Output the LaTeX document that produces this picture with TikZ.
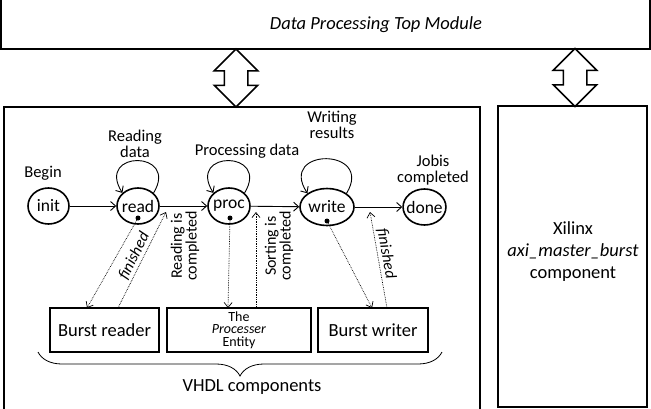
\documentclass[tikz,border=0pt]{standalone}
\usepackage{fontspec}
\setmainfont{Carlito}
\usetikzlibrary{arrows.meta,shapes.geometric,shapes.arrows,decorations.pathreplacing}

\tikzset{
  modbox/.style={draw, line width=1.5pt, inner sep=0pt},
  big/.style={align=center, font=\fontsize{18.5pt}{22pt}\selectfont},
  fsm/.style={draw, ellipse, line width=1.6pt, inner sep=-3pt, minimum height=36pt, font=\fontsize{17.5pt}{20pt}\selectfont},
  note/.style={align=center, font=\fontsize{16.5pt}{16pt}\selectfont},
  vlbl/.style={align=center, rotate=90, font=\fontsize{16pt}{13.5pt}\selectfont},
  finlbl/.style={font=\fontsize{16pt}{18pt}\selectfont\itshape, inner sep=2pt},
  compbox/.style={draw, line width=1.5pt, minimum height=44pt, font=\fontsize{18.5pt}{22pt}\selectfont},
  dblarrow/.style={double arrow, draw, line width=1.5pt, fill=white, rotate=90, minimum height=58pt, minimum width=0pt, inner xsep=0pt, inner ysep=11pt, double arrow head extend=10pt},
  transarrow/.style={-{Straight Barb[length=5pt,width=9pt]}, line width=0.9pt},
  sig/.style={densely dotted, -{Straight Barb[length=5pt,width=8pt]}, line width=0.7pt},
  dotmark/.style={circle, fill, inner sep=0pt, minimum size=5pt}
}

\begin{document}
\begin{tikzpicture}[x=1pt,y=-1pt]
\useasboundingbox (0,0) rectangle (651,408);
% modules
\node[modbox, minimum width=649pt, minimum height=56pt] (top) at (325.5,21) {};
\node[big] (toplbl) at (376,25) {\textit{Data Processing Top Module}};
\node[modbox, minimum width=476pt, minimum height=306pt] (vhdl) at (242,260) {};
\node[modbox, minimum width=149pt, minimum height=301pt] (xil) at (572.5,256.5) {};
\node[big] (xillbl) at (573,252) {Xilinx\\\textit{axi\_master\_burst}\\component};
\node[dblarrow] (arrl) at (236,78) {};
\node[dblarrow] (arrr) at (575,77.5) {};

% state machine
\node[fsm, minimum width=41pt] (init) at (48.5,206) {init};
\node[fsm, minimum width=42pt] (read) at (138,206) {read};
\node[fsm, minimum width=42pt] (proc) at (229,206) {proc};
\node[fsm, minimum width=54pt, minimum height=37pt] (write) at (327,207) {write};
\node[fsm, minimum width=39pt] (done) at (424.5,207) {done};

\node[note] (lbegin) at (43,173) {Begin};
\node[note] (lread) at (135,143.5) {Reading\\data};
\node[note] (lproc) at (247,151) {Processing data};
\node[note] (lwrite) at (332,125) {Writing\\results};
\node[note] (ldone) at (433,170.5) {Jobis\\completed};

\draw[transarrow] (init) -- (read);
\draw[transarrow] (read) -- (proc);
\draw[transarrow] (proc) -- (write);
\draw[transarrow] (write) -- (done);
\draw[transarrow] (read.40) .. controls +(26,-43) and +(-27,-43) .. (read.140);
\draw[transarrow] (proc.40) .. controls +(26,-43) and +(-27,-43) .. (proc.140);
\draw[transarrow] (write.35) .. controls +(28,-46) and +(-30,-46) .. (write.145);

\node[dotmark] (rdot) at (138,218) {};
\node[dotmark] (pdot) at (230,218) {};
\node[dotmark] (wdot) at (327,221) {};

% VHDL components
\node[compbox, minimum width=109pt] (reader) at (104.5,330) {Burst reader};
\node[compbox, minimum width=144pt, inner sep=1pt, align=center, font=\fontsize{14pt}{12.5pt}\selectfont] (procent) at (239,330) {The\\\textit{Processer}\\Entity};
\node[compbox, minimum width=110pt] (writer) at (373,330) {Burst writer};

\coordinate (rdin) at (87,308);
\coordinate (rdout) at (118,308);
\coordinate (rdhit) at (166,212);
\coordinate (pein) at (228,308);
\coordinate (peout) at (256,308);
\coordinate (pehit) at (256,212);
\coordinate (wrin) at (372,308);
\coordinate (wrout) at (387,308);
\coordinate (wrhit) at (370,212);

\draw[sig] (rdot) -- (rdin);
\draw[sig] (rdout) -- node[finlbl, sloped, above, pos=0.5] {finished} (rdhit);
\draw[sig] (pdot) -- (pein);
\draw[sig] (peout) -- (pehit);
\draw[sig] (wdot) -- (wrin);
\draw[sig] (wrout) -- node[finlbl, sloped, above, pos=0.55] {finished} (wrhit);

\node[vlbl] (rdone) at (185,246) {Reading is\\completed};
\node[vlbl] (sdone) at (279,246) {Sorting is\\completed};

\draw[decorate, decoration={brace, amplitude=24pt}, line width=0.8pt] (442,352) -- (38,352);
\node[big] (vhdllbl) at (252,387) {VHDL components};
\end{tikzpicture}
\end{document}
